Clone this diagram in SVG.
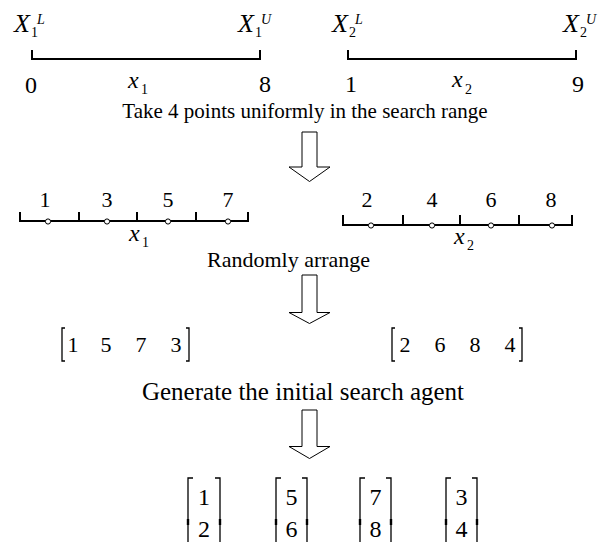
<svg xmlns="http://www.w3.org/2000/svg" width="602" height="542" viewBox="0 0 602 542" font-family="'Liberation Serif', 'Times New Roman', 'DejaVu Serif', serif">
<style>
text{font-family:"Liberation Serif","Times New Roman","DejaVu Serif",serif;fill:#000}
.it{font-style:italic}
.m{text-anchor:middle}
.ax{stroke:#000;stroke-width:2;fill:none}
.dot{fill:#fff;stroke:#000;stroke-width:1}
.arr{fill:#fff;stroke:#000;stroke-width:1}
.br{stroke:#000;stroke-width:1.3;fill:none}
.bj{stroke:#000;stroke-width:2.4;fill:none}
.X{font-size:26px;font-style:italic}
.sb{font-size:14px}
.sp{font-size:14px;font-style:italic}
.lab{font-size:24px}
.d{font-size:22px}
</style>
<rect width="602" height="542" fill="#fff"/>

<g id="range1">
<path class="ax" d="M32 50V59H260V50"/>
<text class="X" x="14" y="32">X</text><text class="sb" x="31" y="37">1</text><text class="sp" x="37" y="24">L</text>
<text class="X" x="238" y="32">X</text><text class="sb" x="255" y="37">1</text><text class="sp" x="261" y="24">U</text>
<text class="lab m" x="31" y="93">0</text>
<text class="lab m" x="265" y="92">8</text>
<text class="it" x="128" y="88" font-size="24">x</text><text class="sb" x="141" y="94">1</text>
</g>

<g id="range2">
<path class="ax" d="M348 50V59H576V50"/>
<text class="X" x="332" y="32">X</text><text class="sb" x="349" y="37">2</text><text class="sp" x="355" y="24">L</text>
<text class="X" x="563" y="32">X</text><text class="sb" x="580" y="37">2</text><text class="sp" x="586" y="24">U</text>
<text class="lab m" x="351" y="92">1</text>
<text class="lab m" x="578" y="92">9</text>
<text class="it" x="452" y="87" font-size="24">x</text><text class="sb" x="465" y="94">2</text>
</g>

<g id="step1">
<text class="m" x="305" y="118" font-size="21">Take 4 points uniformly in the search range</text>
</g>

<g id="points1">
<path class="ax" d="M20 212V221H248V212M79 212V221M137 212V221M196 212V221"/>
<circle class="dot" cx="48" cy="221.5" r="2.6"/>
<circle class="dot" cx="107" cy="221.5" r="2.6"/>
<circle class="dot" cx="168" cy="221.5" r="2.6"/>
<circle class="dot" cx="228" cy="221.5" r="2.6"/>
<text class="d m" x="45" y="207">1</text>
<text class="d m" x="107" y="207">3</text>
<text class="d m" x="168" y="207">5</text>
<text class="d m" x="228" y="207">7</text>
<text class="it" x="129" y="241" font-size="24">x</text><text class="sb" x="142" y="247">1</text>
</g>

<g id="points2">
<path class="ax" d="M343 215V225H572V215M403 215V225M460 215V225M519 215V225"/>
<circle class="dot" cx="371" cy="225.5" r="2.6"/>
<circle class="dot" cx="432" cy="225.5" r="2.6"/>
<circle class="dot" cx="491" cy="225.5" r="2.6"/>
<circle class="dot" cx="552" cy="225.5" r="2.6"/>
<text class="d m" x="367" y="207">2</text>
<text class="d m" x="432" y="207">4</text>
<text class="d m" x="491" y="207">6</text>
<text class="d m" x="551" y="207">8</text>
<text class="it" x="454" y="244" font-size="24">x</text><text class="sb" x="467" y="250">2</text>
</g>

<g id="step2">
<text x="207" y="267" font-size="22">Randomly arrange</text>
</g>

<g id="perm1">
<path class="br" d="M65 328H62V361H65M186 328H189V361H186"/>
<text class="d m" x="73" y="352">1</text>
<text class="d m" x="106" y="352">5</text>
<text class="d m" x="141" y="352">7</text>
<text class="d m" x="176" y="352">3</text>
</g>

<g id="perm2">
<path class="br" d="M395 328H392V361H395M519 328H522V361H519"/>
<text class="d m" x="405" y="352">2</text>
<text class="d m" x="440" y="352">6</text>
<text class="d m" x="475" y="352">8</text>
<text class="d m" x="510" y="352">4</text>
</g>

<g id="step3">
<text class="m" x="303" y="400" font-size="25">Generate the initial search agent</text>
</g>

<g id="agent1">
<path class="br" d="M193 478H188V545M215 478H220V545"/>
<path class="bj" d="M188 519V525M220 519V525"/>
<text class="m" x="204" y="505" font-size="24">1</text>
<text class="m" x="204" y="537" font-size="24">2</text>
</g>
<g id="agent2">
<path class="br" d="M281 478H276V545M302 478H307V545"/>
<path class="bj" d="M276 519V525M307 519V525"/>
<text class="m" x="291.5" y="505" font-size="24">5</text>
<text class="m" x="291.5" y="537" font-size="24">6</text>
</g>
<g id="agent3">
<path class="br" d="M365 478H360V545M386 478H391V545"/>
<path class="bj" d="M360 519V525M391 519V525"/>
<text class="m" x="375.5" y="505" font-size="24">7</text>
<text class="m" x="375.5" y="537" font-size="24">8</text>
</g>
<g id="agent4">
<path class="br" d="M451 478H446V545M472 478H477V545"/>
<path class="bj" d="M446 519V525M477 519V525"/>
<text class="m" x="461.5" y="505" font-size="24">3</text>
<text class="m" x="461.5" y="537" font-size="24">4</text>
</g>

<g id="connectors">
<polygon class="arr" points="302,132 317,132 317,167 330,167 309.5,181.5 289,167 302,167"/>
<polygon class="arr" points="302,275 317,275 317,312.5 330,312.5 309.5,323.5 289,312.5 302,312.5"/>
<polygon class="arr" points="302,410 317,410 317,446.5 330,446.5 309.5,458.5 289,446.5 302,446.5"/>
</g>
</svg>
